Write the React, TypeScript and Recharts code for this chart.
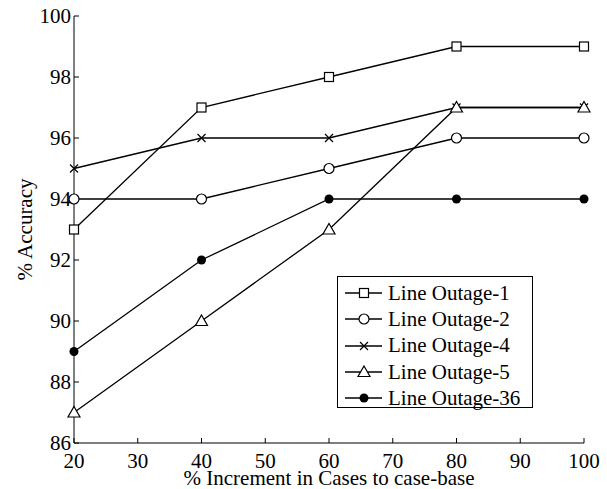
import type { JSX } from 'react';
import { LineChart, Line, XAxis, YAxis, Legend } from 'recharts';

const increments = [20, 40, 60, 80, 100];
const outage1 = [93, 97, 98, 99, 99];
const outage2 = [94, 94, 95, 96, 96];
const outage4 = [95, 96, 96, 97, 97];
const outage5 = [87, 90, 93, 97, 97];
const outage36 = [89, 92, 94, 94, 94];

const xTicks = [20, 30, 40, 50, 60, 70, 80, 90, 100];
const yTicks = [86, 88, 90, 92, 94, 96, 98, 100];

const font = "'Liberation Serif', 'Times New Roman', serif";

type MarkerKind = 'square' | 'circle' | 'cross' | 'triangle' | 'dot';

const series: { key: string; name: string; marker: MarkerKind }[] = [
  { key: 'o1', name: 'Line Outage-1', marker: 'square' },
  { key: 'o2', name: 'Line Outage-2', marker: 'circle' },
  { key: 'o4', name: 'Line Outage-4', marker: 'cross' },
  { key: 'o5', name: 'Line Outage-5', marker: 'triangle' },
  { key: 'o36', name: 'Line Outage-36', marker: 'dot' },
];

const data = increments.map((x, i) => ({
  x,
  o1: outage1[i],
  o2: outage2[i],
  o4: outage4[i],
  o5: outage5[i],
  o36: outage36[i],
}));

function Marker({ kind, cx, cy }: { kind: MarkerKind; cx: number; cy: number }): JSX.Element {
  const s = { stroke: '#000', strokeWidth: 1.2 };
  switch (kind) {
    case 'square':
      return <rect x={cx - 4.5} y={cy - 4.5} width={9} height={9} fill="#fff" {...s} />;
    case 'circle':
      return <circle cx={cx} cy={cy} r={5} fill="#fff" {...s} />;
    case 'cross':
      return (
        <path d={`M${cx - 4},${cy - 4}L${cx + 4},${cy + 4}M${cx - 4},${cy + 4}L${cx + 4},${cy - 4}`} fill="none" {...s} />
      );
    case 'triangle':
      return <path d={`M${cx},${cy - 6}L${cx + 6},${cy + 4.5}L${cx - 6},${cy + 4.5}Z`} fill="#fff" {...s} />;
    default:
      return <circle cx={cx} cy={cy} r={4.5} fill="#000" stroke="none" />;
  }
}

function makeDot(kind: MarkerKind) {
  return (props: any) => <Marker key={`${kind}-${props.index}`} kind={kind} cx={props.cx} cy={props.cy} />;
}

function LegendBox(): JSX.Element {
  return (
    <div
      style={{
        border: '1.5px solid #000',
        background: '#fff',
        width: 196,
        height: 132,
        boxSizing: 'border-box',
        padding: '3px 0 0 6px',
        fontFamily: font,
        fontSize: 21,
      }}
    >
      {series.map((s) => (
        <div key={s.key} style={{ display: 'flex', alignItems: 'center', height: 26.3 }}>
          <svg width={40} height={20} style={{ flex: 'none' }}>
            <line x1={1} y1={10} x2={38} y2={10} stroke="#000" strokeWidth={1.3} />
            <Marker kind={s.marker} cx={20} cy={10} />
          </svg>
          <span style={{ marginLeft: 4, lineHeight: 1, whiteSpace: 'nowrap' }}>{s.name}</span>
        </div>
      ))}
    </div>
  );
}

export default function App(): JSX.Element {
  const tickStyle = { fill: '#000', fontSize: 21, fontFamily: font };
  return (
    <div style={{ position: 'absolute', left: 0, top: 0, background: '#fff' }}>
      <LineChart width={607} height={489} data={data} margin={{ top: 16, right: 23, bottom: 4, left: 14 }}>
        <XAxis
          xAxisId="b"
          type="number"
          dataKey="x"
          domain={[20, 100]}
          ticks={xTicks}
          tickSize={-5}
          tickMargin={15}
          height={42}
          stroke="#000"
          tick={tickStyle}
          label={{ value: '% Increment in Cases to case-base', position: 'insideBottom', offset: 0, fill: '#000', fontSize: 21, fontFamily: font }}
        />
        <XAxis
          xAxisId="t"
          orientation="top"
          type="number"
          dataKey="x"
          domain={[20, 100]}
          ticks={xTicks}
          tickSize={-5}
          height={0}
          stroke="#000"
          tick={false}
        />
        <YAxis
          yAxisId="l"
          type="number"
          domain={[86, 100]}
          ticks={yTicks}
          tickSize={-5}
          tickMargin={8}
          width={60}
          stroke="#000"
          tick={tickStyle}
          label={{ value: '% Accuracy', angle: -90, position: 'insideLeft', offset: 11, fill: '#000', fontSize: 21, fontFamily: font, style: { textAnchor: 'middle' } }}
        />
        <YAxis
          yAxisId="r"
          orientation="right"
          type="number"
          domain={[86, 100]}
          ticks={yTicks}
          tickSize={-5}
          width={0}
          stroke="#000"
          tick={false}
        />
        {series.map((s) => (
          <Line
            key={s.key}
            xAxisId="b"
            yAxisId="l"
            type="linear"
            dataKey={s.key}
            name={s.name}
            stroke="#000"
            strokeWidth={1.3}
            dot={makeDot(s.marker)}
            activeDot={false}
            isAnimationActive={false}
          />
        ))}
        <Legend
          layout="vertical"
          verticalAlign="middle"
          align="center"
          content={() => <LegendBox />}
          wrapperStyle={{ position: 'absolute', left: 337, top: 276, width: 196, height: 132 }}
        />
      </LineChart>
    </div>
  );
}
